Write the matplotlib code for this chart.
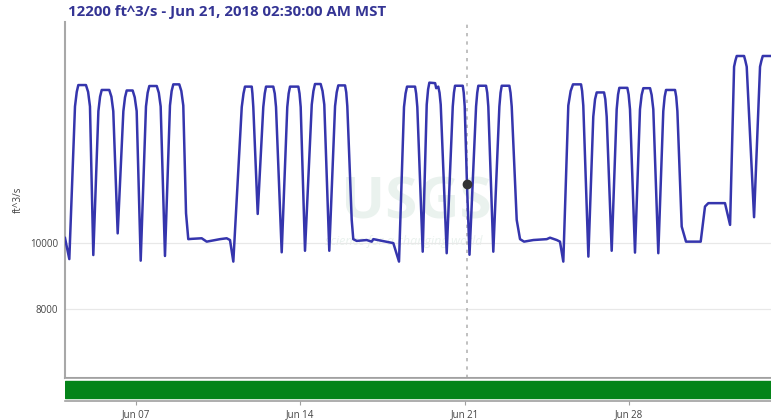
import matplotlib
matplotlib.use("Agg")
import matplotlib.pyplot as plt
import matplotlib.dates as mdates
import pandas as pd
from matplotlib.ticker import FixedLocator, NullLocator

# discharge readings (MST)
times = [
    "06-04 00:00", "06-04 04:24",
    "06-04 10:12", "06-04 12:00", "06-04 13:36", "06-04 21:24", "06-04 23:36", "06-05 01:30",
    "06-05 04:54",
    "06-05 10:06", "06-05 11:48", "06-05 13:30", "06-05 21:12", "06-05 23:24", "06-06 01:18",
    "06-06 05:48",
    "06-06 11:36", "06-06 13:18", "06-06 15:00", "06-06 21:06", "06-06 23:12", "06-07 01:12",
    "06-07 05:18",
    "06-07 10:42", "06-07 12:24", "06-07 14:06", "06-07 21:42", "06-07 23:48", "06-08 01:42",
    "06-08 06:06",
    "06-08 11:12", "06-08 12:54", "06-08 14:36", "06-08 20:42", "06-08 22:48", "06-09 00:48",
    "06-09 03:36", "06-09 05:54", "06-09 09:24", "06-09 19:36", "06-10 00:42",
    "06-10 14:18", "06-10 21:06", "06-11 00:30",
    "06-11 03:54",
    "06-11 12:30", "06-11 14:18", "06-11 15:48", "06-11 22:42", "06-11 23:24", "06-12 00:18",
    "06-12 04:48",
    "06-12 10:30", "06-12 12:00", "06-12 13:18", "06-12 20:42", "06-12 22:12", "06-12 23:30",
    "06-13 05:18",
    "06-13 11:00", "06-13 12:24", "06-13 13:48", "06-13 22:18", "06-13 23:30", "06-14 00:42",
    "06-14 05:06",
    "06-14 12:00", "06-14 13:42", "06-14 15:18", "06-14 21:06", "06-14 23:00", "06-15 00:48",
    "06-15 05:54",
    "06-15 11:48", "06-15 13:30", "06-15 15:06", "06-15 22:00", "06-15 23:12", "06-16 00:18",
    "06-16 04:48", "06-16 06:24", "06-16 09:54", "06-16 20:06", "06-17 01:12",
    "06-17 02:54", "06-17 23:18",
    "06-18 05:06",
    "06-18 10:12", "06-18 11:48", "06-18 13:18", "06-18 21:30", "06-18 22:36", "06-18 23:48",
    "06-19 05:18",
    "06-19 09:24", "06-19 10:48", "06-19 12:06", "06-19 18:00", "06-19 19:06", "06-19 21:12",
    "06-19 22:30", "06-19 23:42",
    "06-20 05:48",
    "06-20 12:00", "06-20 13:12", "06-20 14:18", "06-20 22:12", "06-20 23:12", "06-21 00:12",
    "06-21 02:30", "06-21 05:06",
    "06-21 11:48", "06-21 13:00", "06-21 14:06", "06-21 22:00", "06-21 23:12", "06-22 00:18",
    "06-22 05:24",
    "06-22 11:36", "06-22 12:48", "06-22 14:00", "06-22 21:48", "06-22 23:00", "06-23 00:12",
    "06-23 05:18", "06-23 08:42", "06-23 12:48", "06-23 22:18", "06-24 12:00",
    "06-24 15:18", "06-24 22:12", "06-25 01:30",
    "06-25 04:54",
    "06-25 10:00", "06-25 12:24", "06-25 14:48", "06-25 23:00", "06-26 00:06", "06-26 01:18",
    "06-26 06:30",
    "06-26 11:30", "06-26 13:18", "06-26 15:00", "06-26 22:30", "06-26 23:48", "06-27 01:12",
    "06-27 06:18",
    "06-27 11:24", "06-27 12:48", "06-27 14:06", "06-27 22:18", "06-27 23:36", "06-28 01:00",
    "06-28 06:06",
    "06-28 11:12", "06-28 12:54", "06-28 14:36", "06-28 21:30", "06-28 23:06", "06-29 00:48",
    "06-29 05:54",
    "06-29 11:00", "06-29 12:24", "06-29 13:48", "06-29 23:00", "06-30 00:12", "06-30 01:24",
    "06-30 05:48", "06-30 10:12", "07-01 01:12", "07-01 05:36", "07-01 09:00",
    "07-02 02:00", "07-02 07:12",
    "07-02 11:18", "07-02 12:36", "07-02 14:00", "07-02 21:30", "07-02 22:48", "07-03 00:12",
    "07-03 07:42",
    "07-03 13:48", "07-03 15:12", "07-03 16:36", "07-04 00:00",
]
flow = [
    10160, 9460,
    15850, 16650, 17040, 17040, 16650, 15850,
    9590,
    15600, 16380, 16760, 16760, 16380, 15600,
    10320,
    15600, 16350, 16730, 16730, 16350, 15600,
    9410,
    15850, 16600, 16985, 16985, 16600, 15850,
    9560,
    15900, 16700, 17080, 17080, 16700, 15900,
    11045, 10120, 10130, 10150, 10035,
    10120, 10150, 10090,
    9380,
    15820, 16560, 16950, 16950, 16560, 15820,
    11020,
    15820, 16560, 16950, 16950, 16560, 15820,
    9680,
    15820, 16560, 16950, 16950, 16560, 15820,
    9730,
    15950, 16700, 17100, 17100, 16700, 15950,
    9730,
    15870, 16630, 17020, 17020, 16630, 15870,
    10800, 10120, 10060, 10090, 10035,
    10120, 9985,
    9380,
    15820, 16560, 16950, 16950, 16560, 15820,
    9700,
    15950, 16790, 17180, 17150, 16860, 16950,
    16600, 15950,
    9650,
    15850, 16600, 17000, 17000, 16600, 15850,
    12200, 9600,
    15850, 16600, 17000, 17000, 16600, 15850,
    9700,
    15850, 16600, 17000, 17000, 16600, 15850,
    10800, 10120, 10035, 10090, 10120,
    10170, 10090, 10035,
    9380,
    15900, 16700, 17080, 17080, 16700, 15900,
    9540,
    15310, 16240, 16620, 16620, 16240, 15310,
    9730,
    15700, 16500, 16880, 16880, 16500, 15700,
    9670,
    15700, 16480, 16860, 16860, 16480, 15700,
    9650,
    15600, 16380, 16760, 16760, 16380, 15600,
    10560, 10035, 10035, 11300, 11430,
    11430, 10620,
    18130, 18500, 18800, 18800, 18500, 18130,
    10900,
    18130, 18500, 18800, 18800,
]

hover_time = "06-21 02:30"
hover_value = 12200
week_ticks = ["06-07", "06-14", "06-21", "06-28"]
week_labels = ["Jun 07", "Jun 14", "Jun 21", "Jun 28"]
y_ticks = [8000, 10000]

t = pd.to_datetime(["2018-" + s for s in times])
t_hover = pd.Timestamp("2018-" + hover_time)
t_ticks = pd.to_datetime(["2018-" + s for s in week_ticks])

plt.rcParams['font.family'] = ['Open Sans', 'DejaVu Sans']

fig = plt.figure(figsize=(7.71, 4.2), dpi=100)
W, H = 771, 420
ax = fig.add_axes([65 / W, 42 / H, 706 / W, 356 / H])
bar = fig.add_axes([65 / W, 19 / H, 706 / W, 23 / H], sharex=ax)

# faint USGS watermark
ax.text(0.497, 0.49, "USGS", transform=ax.transAxes, ha='center', va='center',
        fontsize=42, fontweight='bold', color='#eaf2ee', zorder=0)
ax.text(0.48, 0.383, "science for a changing world", transform=ax.transAxes,
        ha='center', va='center', fontsize=9, style='italic', color='#eaf2ee', zorder=0)

ax.plot(t, flow, color='#3535ad', lw=1.8, zorder=3, solid_joinstyle='round')
ax.axvline(t_hover, color='#b5b5b5', lw=1.2, ls=(0, (2, 3)), zorder=2)
ax.plot([t_hover], [hover_value], 'o', color='#333333', ms=6, zorder=4)

ax.set_yscale('log')
ax.set_ylim(6328, 21090)
ax.set_xlim(pd.Timestamp("2018-06-04 00:00"), pd.Timestamp("2018-07-04 01:00"))
ax.yaxis.set_major_locator(FixedLocator(y_ticks))
ax.yaxis.set_minor_locator(NullLocator())
ax.set_yticklabels([str(v) for v in y_ticks])
ax.grid(axis='y', color='#e8e8e8', lw=0.9)
ax.tick_params(axis='y', length=0, labelsize=7, labelcolor='#444444', pad=5)
ax.tick_params(axis='x', bottom=False, labelbottom=False)
for s in ['top', 'right']:
    ax.spines[s].set_visible(False)
for s in ['left', 'bottom']:
    ax.spines[s].set_color('#a8a8a8')
    ax.spines[s].set_linewidth(1.5)

# approval status bar
bar.set_ylim(0, 1)
bar.axhspan(0.13, 0.87, color='#048419')
bar.set_yticks([])
for s in ['left', 'right']:
    bar.spines[s].set_visible(False)
for s in ['top', 'bottom']:
    bar.spines[s].set_color('#a0a0a0')
    bar.spines[s].set_linewidth(1.2)
bar.xaxis.set_major_locator(FixedLocator(mdates.date2num(t_ticks)))
bar.set_xticklabels(week_labels)
bar.tick_params(axis='x', length=3, color='#a0a0a0', labelsize=7,
                labelcolor='#444444', pad=3)

fig.text(68 / W, 1 - 12 / H, "12200 ft^3/s - Jun 21, 2018 02:30:00 AM MST",
         fontsize=10.8, fontweight='bold', color='#343494', va='center', ha='left')
fig.text(18 / W, 1 - 200 / H, "ft^3/s", rotation=90, fontsize=7,
         color='#444444', va='center', ha='center')

fig.savefig("out.png", dpi=100)
